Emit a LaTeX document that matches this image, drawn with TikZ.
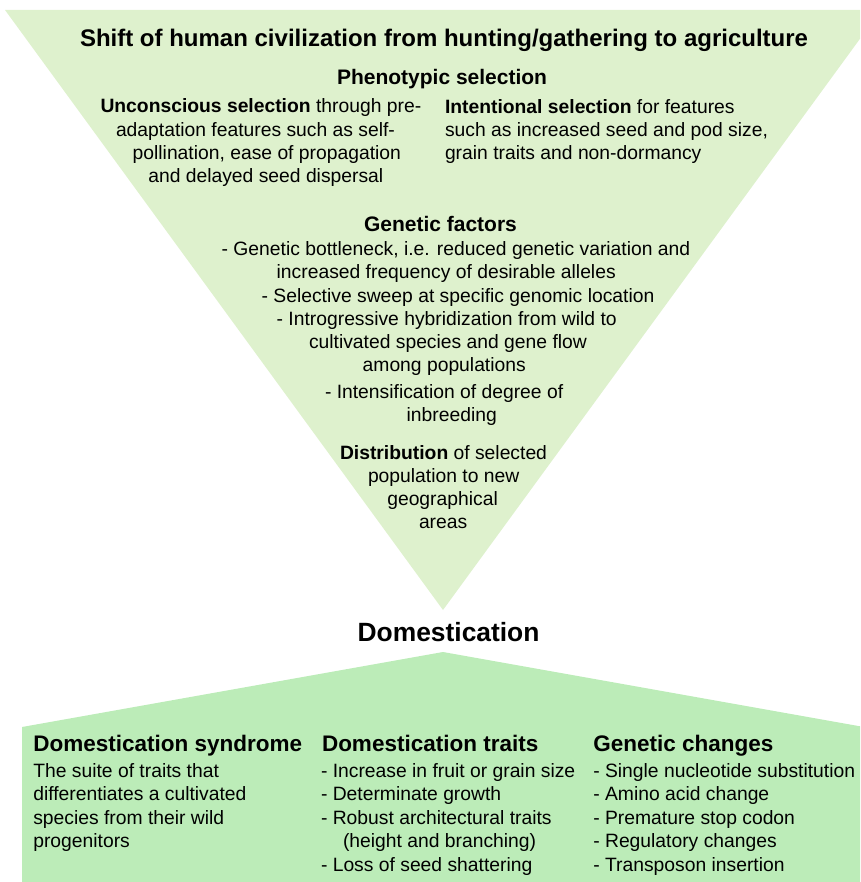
\documentclass[tikz,border=0pt]{standalone}
\usepackage{fontspec}
\setmainfont{Liberation Sans}
\definecolor{trigreen}{RGB}{222,241,205}
\definecolor{pentgreen}{RGB}{188,236,184}
\tikzset{
  txt/.style={inner sep=0pt, outer sep=0pt, text=black, anchor=base west},
  body/.style={txt, font=\fontsize{19.3}{23.3}\selectfont},
  subhead/.style={txt, font=\fontsize{21}{25}\selectfont\bfseries},
  colhead/.style={txt, font=\fontsize{22.5}{27}\selectfont\bfseries},
  bigtitle/.style={txt, font=\fontsize{24}{28}\selectfont\bfseries},
  domtitle/.style={txt, font=\fontsize{26.4}{30}\selectfont\bfseries},
  funnel/.style={fill=trigreen, draw=none},
  roof/.style={fill=pentgreen, draw=none}
}
\begin{document}
\begin{tikzpicture}[x=1pt,y=-1pt]
\useasboundingbox (0,0) rectangle (860,882);
\begin{scope}
\clip (0,0) rectangle (860,882);
\fill[funnel] (5,10) -- (881,10) -- (443,610) -- cycle;
\fill[roof] (443,652) -- (864,727) -- (864,882) -- (22,882) -- (22,727) -- cycle;
\end{scope}

% Top funnel
\node[bigtitle] (title) at (80,47) {Shift of human civilization from hunting/gathering to agriculture};
\node[subhead] (pheno) at (337,85) {Phenotypic selection};

\node[body] (u1) at (100.5,113) {\textbf{Unconscious selection} through pre-};
\node[body] (u2) at (116,136.2) {adaptation features such as self-};
\node[body] (u3) at (132.7,159.4) {pollination, ease of propagation};
\node[body] (u4) at (148.3,182.5) {and delayed seed dispersal};

\node[body] (i1) at (445,113.5) {\textbf{Intentional selection} for features};
\node[body] (i2) at (445,136.7) {such as increased seed and pod size,};
\node[body] (i3) at (445,159.9) {grain traits and non-dormancy};

\node[subhead] (genf) at (364,231.7) {Genetic factors};
\node[body] (g1) at (221.7,255.5) {- Genetic bottleneck, i.e. reduced genetic variation and};
\node[body] (g2) at (276.7,278.8) {increased frequency of desirable alleles};
\node[body] (g3) at (261.7,302) {- Selective sweep at specific genomic location};
\node[body] (g4) at (276.7,325.2) {- Introgressive hybridization from wild to};
\node[body] (g5) at (309,348.4) {cultivated species and gene flow};
\node[body] (g6) at (362.7,371.6) {among populations};
\node[body] (g7) at (325,398.5) {- Intensification of degree of};
\node[body] (g8) at (406.7,421.7) {inbreeding};

\node[body] (d1) at (340,459.3) {\textbf{Distribution} of selected};
\node[body] (d2) at (368,482.2) {population to new};
\node[body] (d3) at (387.3,505.1) {geographical};
\node[body] (d4) at (419,528) {areas};

% Domestication
\node[domtitle] (dom) at (357.6,641) {Domestication};

% Bottom columns
\node[colhead] (c1h) at (33.3,751.5) {Domestication syndrome};
\node[body] (c1a) at (33.3,777) {The suite of traits that};
\node[body] (c1b) at (33.3,800.5) {differentiates a cultivated};
\node[body] (c1c) at (33.3,824) {species from their wild};
\node[body] (c1d) at (33.3,847.5) {progenitors};

\node[colhead] (c2h) at (322,751.5) {Domestication traits};
\node[body] (c2a) at (321,777) {- Increase in fruit or grain size};
\node[body] (c2b) at (321,800.5) {- Determinate growth};
\node[body] (c2c) at (321,824) {- Robust architectural traits};
\node[body] (c2d) at (343,847.5) {(height and branching)};
\node[body] (c2e) at (321,871) {- Loss of seed shattering};

\node[colhead] (c3h) at (593.3,751.5) {Genetic changes};
\node[body] (c3a) at (593.3,777) {- Single nucleotide substitution};
\node[body] (c3b) at (593.3,800.5) {- Amino acid change};
\node[body] (c3c) at (593.3,824) {- Premature stop codon};
\node[body] (c3d) at (593.3,847.5) {- Regulatory changes};
\node[body] (c3e) at (593.3,871) {- Transposon insertion};
\end{tikzpicture}
\end{document}
